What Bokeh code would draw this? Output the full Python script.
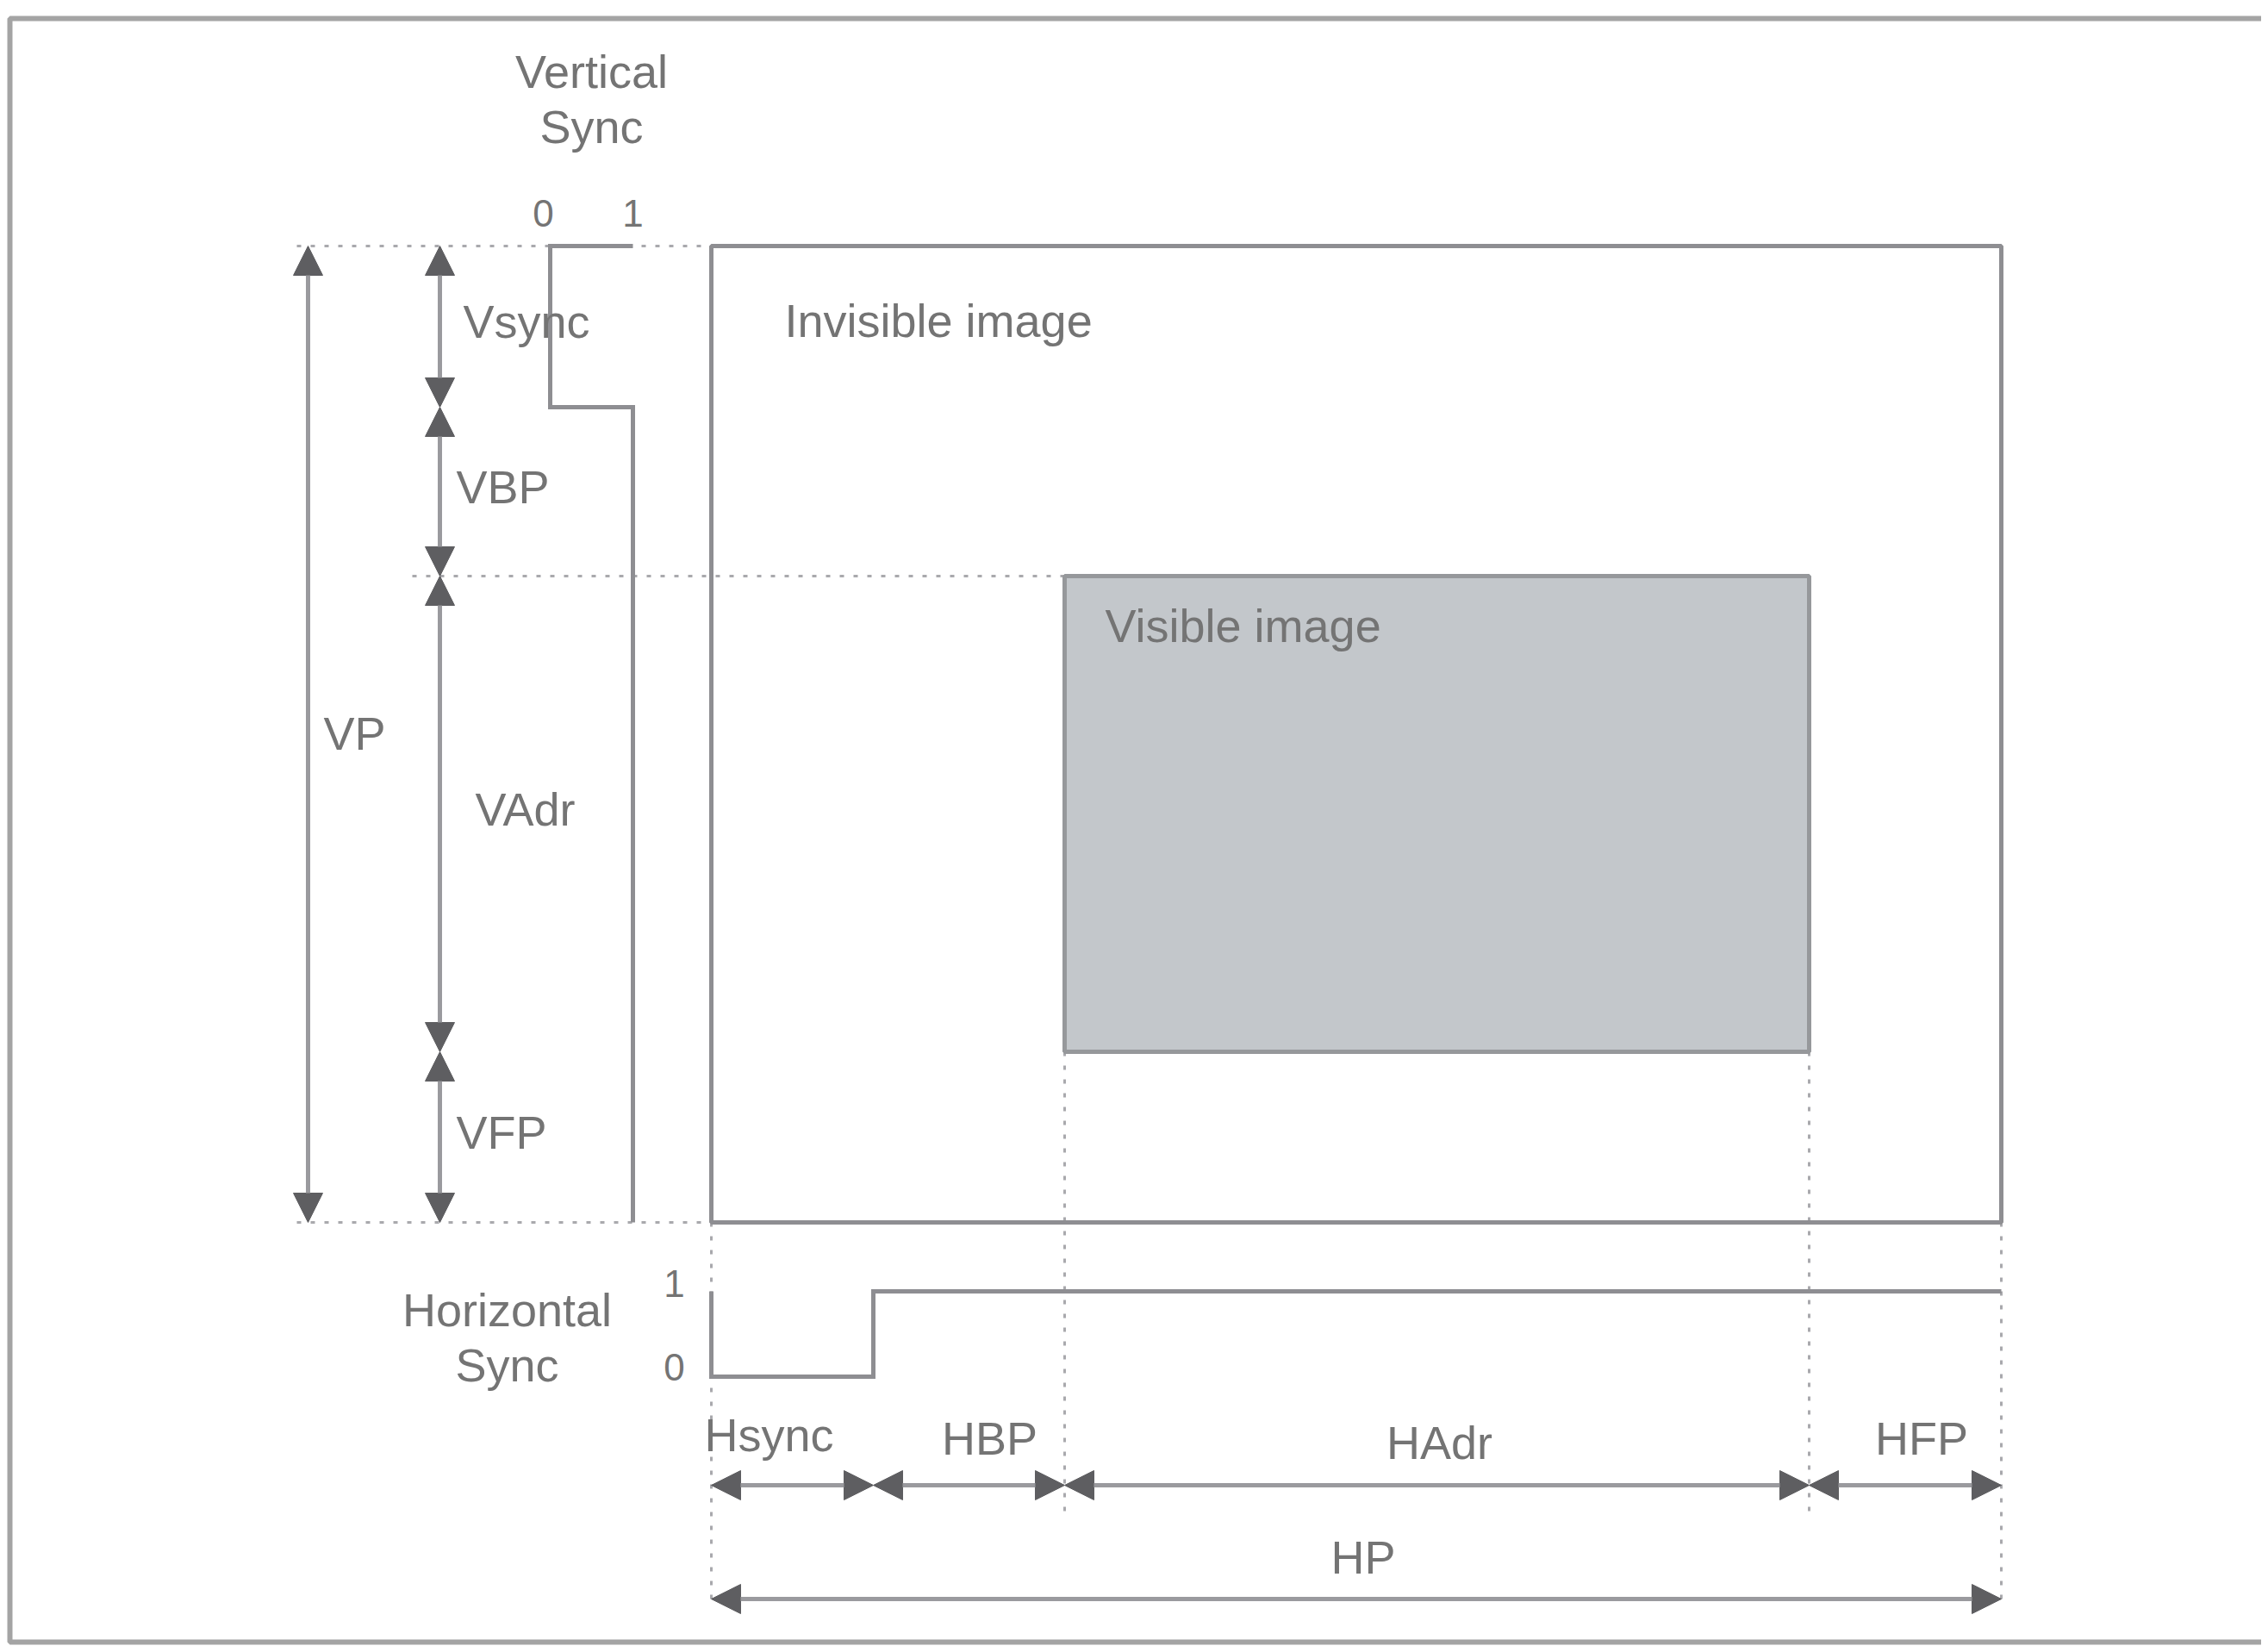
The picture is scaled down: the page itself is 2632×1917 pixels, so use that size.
from bokeh.plotting import figure
from bokeh.models import Range1d, ColumnDataSource, Arrow, NormalHead
from bokeh.core.properties import value
from bokeh.embed import file_html
from bokeh.resources import INLINE

# ---------------- data (timing segments, in diagram units) ----------------
h_names = ["Hsync", "HBP", "HAdr", "HFP"]
h_lengths = [188, 222, 864, 223]
v_names = ["Vsync", "VBP", "VAdr", "VFP"]
v_lengths = [187, 196, 552, 198]
h_total = "HP"
v_total = "VP"
hsync_levels = [0, 1, 1, 1]   # Hsync signal level during each horizontal segment
vsync_levels = [0, 1, 1, 1]   # Vsync signal level during each vertical segment
level_ticks = ["0", "1"]
region_labels = ["Invisible image", "Visible image"]
v_title = ["Vertical", "Sync"]
h_title = ["Horizontal", "Sync"]

# ---------------- layout / style ----------------
X0, Y0 = 825, 285          # top-left corner of the full frame (invisible image)
V_LEVEL_X = {0: 638, 1: 734}
H_LEVEL_Y = {0: 1597, 1: 1498}
VP_X, VSEG_X = 357, 510
HSEG_Y, HP_Y = 1723, 1855
FONT = value("Liberation Sans")
TXT = "#747474"
LINE = "#8e8e92"
SHAFT = "#9a9a9e"
HEAD = "#5e5e61"
DOT = "#a9a9ad"
FS = "54px"
W, H = 2624, 1909

hb = [X0]
for w in h_lengths:
    hb.append(hb[-1] + w)
vb = [Y0]
for h in v_lengths:
    vb.append(vb[-1] + h)

p = figure(width=W, height=H, x_range=Range1d(0, W), y_range=Range1d(H, 0),
           x_axis_type=None, y_axis_type=None, toolbar_location=None,
           output_backend="svg", min_border=0)
p.outline_line_color = None
p.background_fill_color = "white"
p.border_fill_color = "white"

# outer frame (right side runs off the page)
p.line([2700, 11, 11, 2700], [21, 21, 1905, 1905], line_color="#a4a4a4", line_width=6)

# dotted guide lines
dx = [[344, X0], [478, hb[2]], [344, X0],
      [X0, X0], [hb[2], hb[2]], [hb[3], hb[3]], [hb[4], hb[4]]]
dy = [[vb[0], vb[0]], [vb[2], vb[2]], [vb[4], vb[4]],
      [vb[4], HP_Y + 10], [vb[3], HSEG_Y + 40], [vb[3], HSEG_Y + 40], [vb[4], HP_Y + 10]]
p.multi_line(dx, dy, line_color=DOT, line_width=3, line_dash="5 11")

# visible image
p.quad(left=[hb[2]], right=[hb[3]], top=[vb[2]], bottom=[vb[3]],
       fill_color="#c3c7cb", line_color="#96989b", line_width=5)
# invisible (full) image frame
p.quad(left=[hb[0]], right=[hb[4]], top=[vb[0]], bottom=[vb[4]],
       fill_color=None, line_color=LINE, line_width=5)


def step_path(bounds, levels, prev_level, pos):
    t = [bounds[0]]
    l = [pos[prev_level]]
    for i, lev in enumerate(levels):
        t += [bounds[i], bounds[i + 1]]
        l += [pos[lev], pos[lev]]
    return t, l


# vertical sync waveform
ty, lx = step_path(vb, vsync_levels, 1, V_LEVEL_X)
p.line(lx, ty, line_color=LINE, line_width=5, line_join="miter")
# horizontal sync waveform
tx, ly = step_path(hb, hsync_levels, 1, H_LEVEL_Y)
p.line(tx, ly, line_color=LINE, line_width=5, line_join="miter")

# dimension arrows
ax0, ay0, ax1, ay1 = [], [], [], []
for i in range(len(v_lengths)):
    ax0.append(VSEG_X); ay0.append(vb[i]); ax1.append(VSEG_X); ay1.append(vb[i + 1])
for i in range(len(h_lengths)):
    ax0.append(hb[i]); ay0.append(HSEG_Y); ax1.append(hb[i + 1]); ay1.append(HSEG_Y)
ax0 += [VP_X, hb[0]]; ay0 += [vb[0], HP_Y]; ax1 += [VP_X, hb[-1]]; ay1 += [vb[-1], HP_Y]
asrc = ColumnDataSource(dict(x0=ax0, y0=ay0, x1=ax1, y1=ay1))


def head():
    return NormalHead(size=34, fill_color=HEAD, line_color=HEAD, line_width=1)


p.add_layout(Arrow(start=head(), end=head(), x_start="x0", y_start="y0",
                   x_end="x1", y_end="y1", source=asrc,
                   line_color=SHAFT, line_width=5))

# ---------------- texts ----------------
def label(xs, ys, texts, align="center", size=FS):
    src = ColumnDataSource(dict(x=xs, y=ys, t=texts))
    p.text("x", "y", "t", source=src, text_font=FONT, text_font_size=size,
           text_color=TXT, text_align=align, text_baseline="middle")


vmid = (V_LEVEL_X[0] + V_LEVEL_X[1]) / 2
label([vmid, vmid], [82, 146], v_title)
label([V_LEVEL_X[0] - 8, V_LEVEL_X[1]], [247, 247], level_ticks, size="44px")
label([588, 588], [1519, 1583], h_title)
label([X0 - 43, X0 - 43], [H_LEVEL_Y[0] - 11, H_LEVEL_Y[1] - 9], level_ticks, size="44px")

v_dx = [27, 19, 41, 19]
label([VSEG_X + d for d in v_dx],
      [(vb[i] + vb[i + 1]) / 2 - 6 for i in range(len(v_lengths))], v_names, align="left")
label([VP_X + 54], [(vb[0] + vb[-1]) / 2 - 1], [v_total])

h_dx = [-27, 24, 3, 19]
label([(hb[i] + hb[i + 1]) / 2 + h_dx[i] for i in range(len(h_lengths))],
      [1664, 1668, 1673, 1668], h_names)
label([(hb[0] + hb[-1]) / 2 + 8], [1806], [h_total])

label([X0 + 85, hb[2] + 47], [vb[0] + 86, vb[2] + 57], region_labels, align="left")

open("out.html", "w").write(file_html(p, INLINE))
